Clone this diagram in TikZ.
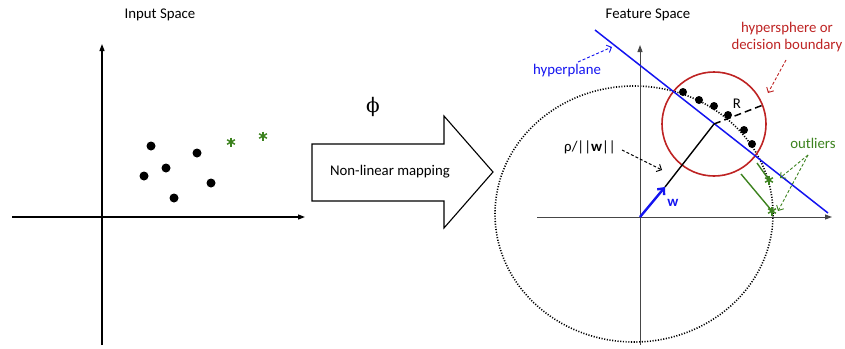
\documentclass[tikz,border=0pt]{standalone}
\usepackage{fontspec}
\setmainfont{Carlito}
\newfontfamily\phifont{DejaVu Serif}
\usetikzlibrary{arrows.meta}
\definecolor{hred}{RGB}{190,35,35}
\definecolor{ogreen}{RGB}{60,130,30}
\definecolor{hblue}{RGB}{20,20,240}
\definecolor{axgray}{RGB}{70,70,70}
\tikzset{
  lbl/.style={font=\fontsize{14.8}{17}\selectfont, inner sep=0pt},
  axisline/.style={line width=1.2pt, -{Triangle[length=7pt,width=5pt]}},
  faxis/.style={axgray, line width=1pt, -{Triangle[length=7pt,width=5pt]}},
  bigdot/.style={circle, fill=black, inner sep=0pt, minimum size=9pt},
  smalldot/.style={circle, fill=black, inner sep=0pt, minimum size=8pt},
  annot/.style={dashed, dash pattern=on 3pt off 2pt, line width=0.9pt, -{Straight Barb[length=4pt,width=8pt]}},
  outstar/.pic={\foreach \a in {90,30,150} \draw[ogreen, line width=1.5pt] (\a:4.5pt) -- (\a+180:4.5pt);}
}
\begin{document}
\begin{tikzpicture}[x=1pt,y=-1pt]
\useasboundingbox (0,0) rectangle (845,348);
% ---------- Input space ----------
\node[lbl] (tin) at (160,15) {Input Space};
\coordinate (lyb) at (102,345);
\coordinate (lyt) at (102,44);
\coordinate (lxl) at (12,217);
\coordinate (lxr) at (305,217);
\draw[axisline] (lyb) -- (lyt);
\draw[axisline] (lxl) -- (lxr);
\node[bigdot] (d1) at (151,146) {};
\node[bigdot] (d2) at (197,153) {};
\node[bigdot] (d3) at (166,168) {};
\node[bigdot] (d4) at (144,176) {};
\node[bigdot] (d5) at (211,183) {};
\node[bigdot] (d6) at (174,198) {};
\coordinate (s1) at (231,142);
\coordinate (s2) at (263,136);
\pic at (s1) {outstar};
\pic at (s2) {outstar};
% ---------- mapping arrow ----------
\draw[line width=1.1pt] (312,144) -- (444,144) -- (444,116) -- (493,172) -- (444,228) -- (444,201) -- (312,201) -- cycle;
\node[lbl] (map) at (390,172) {Non-linear mapping};
\node[inner sep=0pt, font=\phifont\fontsize{20}{22}\selectfont] (phi) at (373,107) {\symbol{"03D5}};
% ---------- Feature space ----------
\node[lbl] (tfe) at (648,15) {Feature Space};
\draw[line width=1.6pt, dash pattern=on 1.1pt off 1.6pt] (634,214) ellipse [x radius=139pt, y radius=128pt];
\coordinate (fyb) at (640,345);
\coordinate (fyt) at (640,45);
\coordinate (fxl) at (537,217);
\coordinate (fxr) at (832,217);
\draw[faxis] (fyb) -- (fyt);
\draw[faxis] (fxl) -- (fxr);
\coordinate (o) at (640,217);
% hypersphere
\node[circle, draw=hred, line width=1.6pt, minimum size=104pt, inner sep=0pt] (hs) at (714,124) {};
% hyperplane
\coordinate (hp1) at (595,30);
\coordinate (hp2) at (828,213);
\draw[hblue, line width=1.5pt] (hp1) -- (hp2);
% w and normal
\coordinate (wt) at (665,187);
\draw[black, line width=1.4pt] (wt) -- (hs.center);
\draw[hblue, line width=2.4pt, -{Straight Barb[length=5pt,width=9pt]}] (o) -- (wt);
\coordinate (rr) at (763,105);
\draw[line width=1.5pt, dash pattern=on 7pt off 4pt] (hs.center) -- (rr);
\node[lbl] (rl) at (737,104) {R};
% feature dots
\node[smalldot] (f1) at (683,92) {};
\node[smalldot] (f2) at (699,100) {};
\node[smalldot] (f3) at (714,106) {};
\node[smalldot] (f4) at (728,115) {};
\node[smalldot] (f5) at (744,130) {};
\node[smalldot] (f6) at (752,144) {};
% outliers
\coordinate (s3) at (769,180);
\coordinate (s4) at (772,211);
\coordinate (g1) at (757,163);
\coordinate (g2) at (741,174);
\draw[ogreen, line width=1.4pt] (g1) -- (s3);
\draw[ogreen, line width=1.4pt] (g2) -- (s4);
\pic at (s3) {outstar};
\pic at (s4) {outstar};
\node[lbl, text=ogreen] (outl) at (813,143) {outliers};
\coordinate (oa) at (808,155);
\coordinate (oe1) at (780,178);
\coordinate (oe2) at (778,211);
\draw[annot, ogreen] (oa) -- (oe1);
\draw[annot, ogreen] (oa) -- (oe2);
% labels with arrows
\node[lbl, text=hblue] (hpl) at (567,71) {hyperplane};
\coordinate (ha) at (578,62);
\coordinate (he) at (612,47);
\draw[annot, hblue] (ha) -- (he);
\node[lbl, text=hred, align=center] (hsl) at (787,37) {hypersphere or\\decision boundary};
\coordinate (ra) at (786,60);
\coordinate (re) at (768,93);
\draw[annot, hred] (ra) -- (re);
\node[lbl] (rho) at (590,147) {ρ/||\textbf{w}||};
\coordinate (pa) at (622,150);
\coordinate (pe) at (662,170);
\draw[annot, black] (pa) -- (pe);
\node[lbl, text=hblue, font=\bfseries\fontsize{14.8}{17}\selectfont] (wl) at (673,203) {w};
\end{tikzpicture}
\end{document}
